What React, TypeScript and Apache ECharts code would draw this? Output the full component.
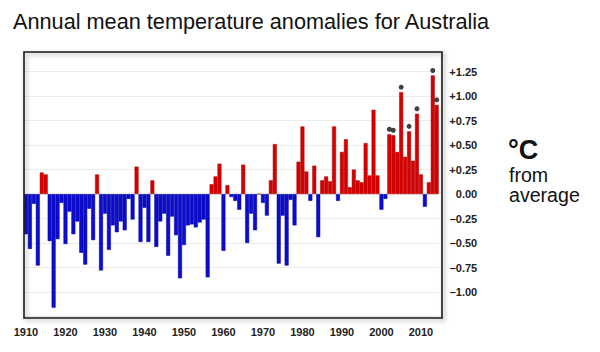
import React, { useEffect, useRef } from 'react';
import * as echarts from 'echarts';

// Years 1910..2014 (categories)
const years: string[] = [];
for (let y = 1910; y <= 2014; y++) years.push(String(y));

// Annual mean temperature anomaly (°C from average)
const anomalies: number[] = [
  -0.41, -0.56, -0.10, -0.73, 0.22, 0.20, -0.48, -1.16, -0.46, -0.09, // 1910-1919
  -0.51, -0.18, -0.41, -0.28, -0.60, -0.72, -0.15, -0.47, 0.20, -0.78, // 1920-1929
  -0.20, -0.57, -0.32, -0.39, -0.28, -0.37, -0.05, -0.26, 0.28, -0.49, // 1930-1939
  -0.14, -0.49, 0.14, -0.54, -0.28, -0.20, -0.63, -0.23, -0.42, -0.86, // 1940-1949
  -0.52, -0.32, -0.31, -0.34, -0.29, -0.26, -0.85, 0.10, 0.18, 0.31,   // 1950-1959
  -0.58, 0.09, -0.03, -0.07, -0.16, 0.30, -0.50, -0.20, -0.37, 0.00,   // 1960-1969
  -0.09, -0.22, 0.14, 0.51, -0.71, -0.22, -0.73, -0.06, -0.32, 0.33,   // 1970-1979
  0.69, 0.23, -0.07, 0.29, -0.44, 0.14, 0.18, 0.13, 0.69, -0.07,       // 1980-1989
  0.43, 0.56, 0.07, 0.25, 0.14, 0.12, 0.52, 0.19, 0.86, 0.19,          // 1990-1999
  -0.16, -0.05, 0.61, 0.60, 0.43, 1.04, 0.38, 0.64, 0.34, 0.82,        // 2000-2009
  0.20, -0.13, 0.12, 1.21, 0.91,                                       // 2010-2014
];

// Years marked with a black dot
const markedYears: string[] = ['2002', '2003', '2005', '2007', '2009', '2013', '2014'];

const TITLE = 'Annual mean temperature anomalies for Australia';
const UNIT_LINES = ['°C', 'from', 'average'];

const FONT = "'Liberation Sans', Arial, Helvetica, sans-serif";
const RED = '#d60000';
const RED_EDGE = '#a80000';
const BLUE = '#0c0cd0';
const BLUE_EDGE = '#00009a';

function fmtY(v: number): string {
  if (Math.abs(v) < 1e-9) return '0.00';
  return v > 0 ? '+' + v.toFixed(2) : '\u2013' + Math.abs(v).toFixed(2);
}

export default function App() {
  const ref = useRef<HTMLDivElement>(null);

  useEffect(() => {
    if (!ref.current) return;
    const chart = echarts.init(ref.current, undefined, { renderer: 'svg' });

    const barData = anomalies.map((v) => ({
      value: v,
      itemStyle: {
        color: v >= 0 ? RED : BLUE,
        borderColor: v >= 0 ? RED_EDGE : BLUE_EDGE,
      },
    }));

    const dotData = markedYears.map((y) => [y, anomalies[years.indexOf(y)]]);

    const textEl = (text: string, x: number, y: number, font: string) => ({
      type: 'text',
      x,
      y,
      style: {
        text,
        font,
        fill: '#111',
        textAlign: 'left',
        textVerticalAlign: 'middle',
      },
    });

    chart.setOption({
      animation: false,
      backgroundColor: '#ffffff',
      grid: { left: 24, right: 161.3, top: 52, bottom: 35.5, containLabel: false },
      xAxis: {
        type: 'category',
        data: years,
        boundaryGap: true,
        axisLine: { show: false, onZero: false },
        axisTick: { show: false },
        splitLine: { show: false },
        axisLabel: {
          interval: (_i: number, v: string) => Number(v) % 10 === 0,
          margin: 10,
          fontSize: 11,
          fontWeight: 'bold',
          color: '#222',
          fontFamily: FONT,
        },
      },
      yAxis: {
        type: 'value',
        position: 'right',
        min: -1.25,
        max: 1.45,
        interval: 0.25,
        axisLine: { show: false },
        axisTick: { show: false },
        splitLine: { show: true, lineStyle: { color: '#ececec', width: 1 } },
        axisLabel: {
          showMinLabel: false,
          showMaxLabel: false,
          align: 'right',
          margin: 38.5,
          fontSize: 11,
          fontWeight: 'bold',
          color: '#222',
          fontFamily: FONT,
          formatter: fmtY,
        },
      },
      series: [
        {
          type: 'bar',
          data: barData,
          barCategoryGap: '0%',
          barGap: '0%',
          itemStyle: { borderWidth: 0.5 },
          z: 2,
        },
        {
          type: 'scatter',
          data: dotData,
          symbol: 'circle',
          symbolSize: 5,
          symbolOffset: [0, -5],
          itemStyle: { color: '#111' },
          z: 3,
        },
      ],
      graphic: [
        {
          type: 'rect',
          shape: { x: 24, y: 52, width: 418, height: 266 },
          style: {
            fill: 'none',
            stroke: '#1a1a1a',
            lineWidth: 1.6,
            shadowColor: 'rgba(0,0,0,0.35)',
            shadowBlur: 4,
            shadowOffsetX: 2,
            shadowOffsetY: 2,
          },
          z: 10,
          silent: true,
        },
        textEl(TITLE, 13, 21, `normal 21.7px ${FONT}`),
        textEl(UNIT_LINES[0], 508, 150.4, `bold 27px ${FONT}`),
        textEl(UNIT_LINES[1], 509, 174.8, `normal 19.6px ${FONT}`),
        textEl(UNIT_LINES[2], 509, 194.8, `normal 19.6px ${FONT}`),
      ],
    });

    return () => chart.dispose();
  }, []);

  return (
    <div
      ref={ref}
      style={{ position: 'fixed', left: 0, top: 0, width: 600, height: 352 }}
    />
  );
}
